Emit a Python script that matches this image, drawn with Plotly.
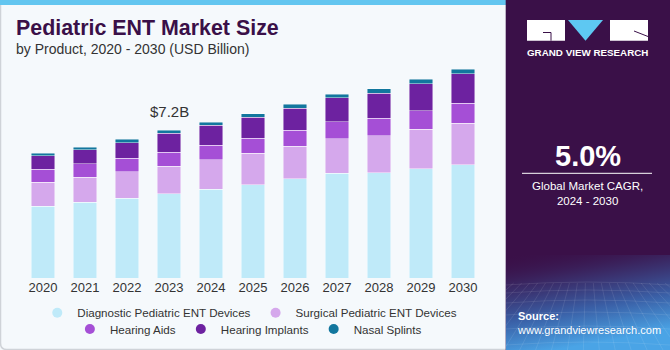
import base64
import plotly.graph_objects as go

# ---- data ----
years = ["2020", "2021", "2022", "2023", "2024", "2025", "2026", "2027", "2028", "2029", "2030"]
diagnostic = [3.50, 3.68, 3.88, 4.09, 4.32, 4.53, 4.82, 5.09, 5.11, 5.32, 5.50]
surgical = [1.17, 1.23, 1.30, 1.35, 1.43, 1.54, 1.59, 1.69, 1.80, 1.91, 2.03]
hearing_aids = [0.63, 0.65, 0.65, 0.68, 0.70, 0.73, 0.79, 0.81, 0.86, 0.91, 0.97]
hearing_implants = [0.65, 0.68, 0.76, 0.91, 0.97, 1.01, 1.07, 1.17, 1.23, 1.31, 1.43]
nasal_splints = [0.13, 0.13, 0.15, 0.16, 0.16, 0.18, 0.19, 0.18, 0.21, 0.21, 0.23]
series_names = ["Diagnostic Pediatric ENT Devices", "Surgical Pediatric ENT Devices",
                "Hearing Aids", "Hearing Implants", "Nasal Splints"]
series_colors = ["#bfeaf9", "#d5a8ec", "#a54fd6", "#6d22a0", "#12779e"]
highlight_year = "2023"
cagr_text = "5.0%"

# ---- geometry helpers (pixels -> paper) ----
W, H = 670, 350
ML, MR, MT, MB = 22, 186, 60, 72
PW, PH = W - ML - MR, H - MT - MB


def px(x):
    return (x - ML) / PW


def py(y):
    return (H - MB - y) / PH


FONT = "Arial, Liberation Sans, sans-serif"
PANEL = "#3a1048"

fig = go.Figure()
series = [diagnostic, surgical, hearing_aids, hearing_implants, nasal_splints]
legend_ids = ["legend", "legend", "legend2", "legend2", "legend2"]
for name, vals, col in zip(series_names, series, series_colors):
    fig.add_trace(go.Bar(
        x=years, y=vals, name=name, legendgroup=name, showlegend=False,
        marker=dict(color=col, line=dict(color="rgba(255,255,255,0.55)", width=0.8)),
        hovertemplate="%{x}: %{y:.2f}B<extra>" + name + "</extra>",
    ))
# circle legend entries (no data drawn)
for name, col, lg in zip(series_names, series_colors, legend_ids):
    fig.add_trace(go.Scatter(
        x=[None], y=[None], mode="markers", name=name, legendgroup=name, legend=lg,
        marker=dict(symbol="circle", size=10, color=col), showlegend=True, hoverinfo="skip",
    ))

hi = years.index(highlight_year)
total_hi = sum(s[hi] for s in series)

# gradient image for bottom of right panel
svg = (
    "<svg xmlns='http://www.w3.org/2000/svg' width='165' height='95' viewBox='0 0 165 95' preserveAspectRatio='none'>"
    "<defs><linearGradient id='g' x1='0' y1='0' x2='0.3' y2='1'>"
    "<stop offset='0' stop-color='#3a1048' stop-opacity='0'/>"
    "<stop offset='0.3' stop-color='#3a2a66' stop-opacity='0.85'/>"
    "<stop offset='0.65' stop-color='#3a5fa6'/>"
    "<stop offset='1' stop-color='#4aa4e6'/>"
    "</linearGradient></defs>"
    "<rect width='165' height='95' fill='url(#g)'/>"
    "<g stroke='white' stroke-opacity='0.16' stroke-width='0.6' fill='none'>"
    + "".join(f"<line x1='{x}' y1='28' x2='{x*2-82}' y2='95'/>" for x in range(0, 170, 8))
    + "".join(f"<path d='M0 {y} Q82 {y-6} 165 {y}'/>" for y in (30, 38, 48, 60, 74, 90))
    + "</g></svg>"
)
img_src = "data:image/svg+xml;base64," + base64.b64encode(svg.encode()).decode()

shapes = [
    # left panel border
    dict(type="path", xref="paper", yref="paper",
         path=f"M {px(0.5)} {py(5)} L {px(0.5)} {py(343)} Q {px(0.5)} {py(349.5)} {px(7)} {py(349.5)} L {px(506)} {py(349.5)}",
         line=dict(color="#cfd3d8", width=1.5), layer="below"),
    # top blue strip
    dict(type="rect", xref="paper", yref="paper", x0=px(0), x1=px(506), y0=py(0), y1=py(5),
         fillcolor="#63c6f0", line=dict(width=0), layer="below"),
    # right panel
    dict(type="rect", xref="paper", yref="paper", x0=px(505.7), x1=px(670), y0=py(0), y1=py(350),
         fillcolor=PANEL, line=dict(width=0), layer="below"),
    # logo: G block
    dict(type="rect", xref="paper", yref="paper", x0=px(527), x1=px(565), y0=py(20), y1=py(40.7),
         fillcolor="white", line=dict(width=0), layer="above"),
    dict(type="path", xref="paper", yref="paper",
         path=f"M {px(543)} {py(32.5)} L {px(551)} {py(32.5)} L {px(551)} {py(40.7)}",
         line=dict(color=PANEL, width=1), layer="above"),
    # logo: triangle
    dict(type="path", xref="paper", yref="paper",
         path=f"M {px(568)} {py(20)} L {px(603)} {py(20)} L {px(585.5)} {py(40.7)} Z",
         fillcolor="#5ec8f2", line=dict(width=0), layer="above"),
    # logo: E block
    dict(type="rect", xref="paper", yref="paper", x0=px(610), x1=px(648), y0=py(20), y1=py(40.7),
         fillcolor="white", line=dict(width=0), layer="above"),
    dict(type="path", xref="paper", yref="paper",
         path=f"M {px(634)} {py(31)} L {px(648)} {py(36.5)}",
         line=dict(color=PANEL, width=1), layer="above"),
    # divider line under CAGR
    dict(type="line", xref="paper", yref="paper", x0=px(522), x1=px(652), y0=py(173.3), y1=py(173.3),
         line=dict(color="white", width=1), layer="above"),
]

annotations = [
    dict(text="<b>Pediatric ENT Market Size</b>", xref="paper", yref="paper", x=px(14), y=py(28),
         xanchor="left", yanchor="middle", showarrow=False, font=dict(size=21.4, color="#3a1048", family=FONT)),
    dict(text="by Product, 2020 - 2030 (USD Billion)", xref="paper", yref="paper", x=px(14), y=py(49),
         xanchor="left", yanchor="middle", showarrow=False, font=dict(size=14, color="#333333", family=FONT)),
    dict(text=f"${total_hi:.1f}B", xref="x", yref="y", x=hi, y=total_hi, yshift=19,
         xanchor="center", yanchor="middle", showarrow=False, font=dict(size=15, color="#333333", family=FONT)),
    dict(text="<b>GRAND VIEW RESEARCH</b>", xref="paper", yref="paper", x=px(587.5), y=py(52),
         xanchor="center", yanchor="middle", showarrow=False, font=dict(size=9.8, color="white", family=FONT)),
    dict(text=f"<b>{cagr_text}</b>", xref="paper", yref="paper", x=px(587.5), y=py(156),
         xanchor="center", yanchor="middle", showarrow=False, font=dict(size=29, color="white", family=FONT)),
    dict(text="Global Market CAGR,<br>2024 - 2030", xref="paper", yref="paper", x=px(587.5), y=py(193),
         xanchor="center", yanchor="middle", showarrow=False, align="center",
         font=dict(size=11.5, color="white", family=FONT)),
    dict(text="<b>Source:</b><br>www.grandviewresearch.com", xref="paper", yref="paper", x=px(515), y=py(322.5),
         xanchor="left", yanchor="middle", showarrow=False, align="left",
         font=dict(size=11, color="white", family=FONT)),
]

legend_common = dict(orientation="h", xanchor="center", yanchor="middle", bgcolor="rgba(0,0,0,0)",
                     font=dict(size=11.6, color="#333333", family=FONT), itemwidth=30,
                     traceorder="normal", itemclick=False, itemdoubleclick=False)

fig.update_layout(
    width=W, height=H,
    margin=dict(l=ML, r=MR, t=MT, b=MB, autoexpand=False),
    paper_bgcolor="#f5f9fc", plot_bgcolor="rgba(0,0,0,0)",
    barmode="stack", bargap=0.45,
    font=dict(family=FONT, color="#333333"),
    xaxis=dict(type="category", range=[-0.5, len(years) - 0.5], showgrid=False, zeroline=False,
               showline=False, ticks="", ticklabelstandoff=0,
               tickfont=dict(size=13, color="#333333", family=FONT), fixedrange=True),
    yaxis=dict(range=[0, PH / (148 / 7.2)], visible=False, fixedrange=True),
    legend=dict(x=0.493, y=py(312.7), **legend_common),
    legend2=dict(x=0.49, y=py(329), **legend_common),
    shapes=shapes,
    annotations=annotations,
    images=[dict(source=img_src, xref="paper", yref="paper", x=px(505.7), y=py(255),
                 sizex=(670 - 505.7) / PW, sizey=95 / PH, sizing="stretch",
                 xanchor="left", yanchor="top", layer="above")],
    showlegend=True,
)

fig.write_html("out.html")
